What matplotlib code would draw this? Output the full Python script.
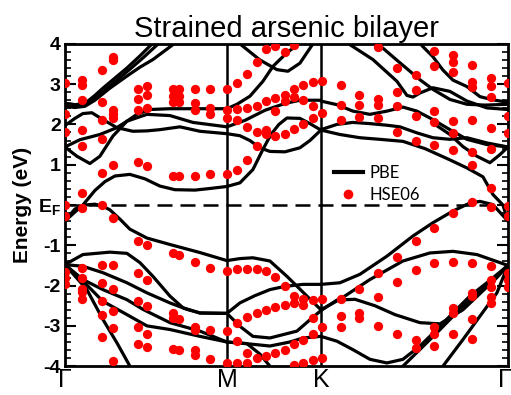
import matplotlib
matplotlib.use("Agg")
import matplotlib.pyplot as plt
import matplotlib.transforms as mtransforms
from matplotlib.ticker import MultipleLocator
from matplotlib.lines import Line2D

plt.rcParams['font.family'] = ['Liberation Sans', 'DejaVu Sans']
plt.rcParams['mathtext.fontset'] = 'custom'
plt.rcParams['mathtext.bf'] = 'Liberation Sans:bold'
plt.rcParams['mathtext.rm'] = 'Liberation Sans:bold'

# high-symmetry points along the path
kpath_pos = [0.0, 1.62, 2.56, 4.43]
kpath_lab = ['Γ', 'M', 'K', 'Γ']

# ---------------- PBE bands (k, E) ----------------
# Gamma - M
gm_c5a_k = [0, .1, .2, .3, .38, .5, .62, .75, .88, .95]
gm_c5a_e = [2.52, 2.49, 2.52, 2.72, 2.9, 3.15, 3.4, 3.7, 4.02, 4.15]
gm_c5b_k = [0, .1, .2, .3, .4, .52, .65, .78, .92, 1.0]
gm_c5b_e = [2.52, 2.49, 2.5, 2.65, 2.85, 3.1, 3.37, 3.65, 3.97, 4.15]
gm_c5c_k = [0, .1, .2, .3, .45, .62, .75, .88, 1.08, 1.15]
gm_c5c_e = [2.45, 2.42, 2.45, 2.6, 2.9, 3.2, 3.42, 3.61, 3.98, 4.1]
gm_b3_k = [0, .1, .18, .27, .38, .52, .68, .82, .95, 1.15, 1.35, 1.62]
gm_b3_e = [1.97, 2.15, 2.27, 2.29, 2.12, 1.92, 1.83, 1.84, 1.87, 1.94, 1.83, 1.77]
gm_b1_k = [0, .15, .35, .52, .62, .72, .85, 1.05, 1.3, 1.62]
gm_b1_e = [1.44, 1.62, 1.75, 1.92, 2.08, 2.25, 2.37, 2.39, 2.39, 2.39]
gm_b2_k = [0, .12, .25, .35, .48, .62, .82, 1.05, 1.28, 1.62]
gm_b2_e = [1.44, 1.21, 1.03, 1.21, 1.71, 2.08, 2.25, 2.22, 2.05, 1.94]
gm_c1_k = [0, .08, .18, .3, .4, .5, .65, .8, .95, 1.1, 1.3, 1.45, 1.62]
gm_c1_e = [-0.4, -0.22, 0.0, 0.36, 0.58, 0.72, 0.76, 0.65, 0.47, 0.38, 0.37, 0.41, 0.46]
gm_v1_k = [0, .1, .2, .3, .38, .45, .55, .65, .82, 1.05, 1.35, 1.62]
gm_v1_e = [-0.4, -0.1, 0.0, 0.02, -0.03, -0.12, -0.35, -0.6, -0.82, -0.98, -1.18, -1.38]
gm_v2_k = [0, .18, .45, .62, .75, .88, 1.05, 1.18, 1.35, 1.62]
gm_v2_e = [-1.48, -1.23, -1.17, -1.20, -1.43, -1.77, -2.26, -2.55, -2.68, -2.69]
gm_v3_k = [0, .18, .38, .62, .82, 1.05, 1.22, 1.35, 1.62]
gm_v3_e = [-1.48, -1.52, -1.68, -1.93, -2.18, -2.43, -2.59, -2.68, -2.69]
gm_v4_k = [0, .18, .38, .62, .78, 1.05, 1.35, 1.62]
gm_v4_e = [-1.48, -1.85, -2.1, -2.35, -2.59, -2.92, -3.13, -3.4]
gm_v5_k = [0, .15, .38, .62, .82, 1.05, 1.35, 1.62]
gm_v5_e = [-1.48, -1.81, -2.39, -2.72, -3.0, -3.09, -3.26, -3.4]
gm_v6_k = [0, .22, .38, .52, .65, .75]
gm_v6_e = [-1.48, -2.1, -2.84, -3.42, -4.0, -4.4]

# M - K
mk_c1_k = [1.62, 1.75, 1.88, 1.98, 2.06, 2.14, 2.22, 2.35, 2.45, 2.56]
mk_c1_e = [0.46, 0.55, 0.88, 1.38, 1.75, 2.0, 2.16, 2.15, 2.02, 1.86]
mk_up_k = [1.62, 1.72, 1.85, 1.98, 2.08, 2.22, 2.35, 2.4]
mk_up_e = [2.39, 2.5, 2.70, 3.07, 3.44, 3.78, 4.02, 4.15]
mk_u_k = [1.7, 1.75, 1.95, 2.12, 2.23, 2.35, 2.48, 2.52]
mk_u_e = [4.15, 4.0, 3.6, 3.36, 3.32, 3.52, 4.0, 4.15]
mk_flat_k = [1.62, 1.8, 2.0, 2.2, 2.35, 2.56]
mk_flat_e = [1.94, 2.1, 2.35, 2.52, 2.6, 2.6]
mk_dip_k = [1.62, 1.75, 1.85, 1.95, 2.05, 2.2, 2.35, 2.45, 2.56]
mk_dip_e = [1.77, 1.72, 1.6, 1.42, 1.33, 1.32, 1.42, 1.6, 1.86]
mk_v1_k = [1.62, 1.75, 1.88, 2.05, 2.22, 2.42, 2.56]
mk_v1_e = [-1.38, -1.33, -1.31, -1.39, -1.77, -2.26, -2.6]
mk_rise_k = [1.62, 1.75, 1.9, 2.05, 2.2, 2.38, 2.56]
mk_rise_e = [-2.69, -2.43, -2.25, -2.1, -2.02, -1.97, -1.97]
mk_dip2_k = [1.62, 1.75, 1.88, 2.05, 2.32, 2.45, 2.56]
mk_dip2_e = [-2.69, -3.01, -3.26, -3.3, -3.13, -2.85, -2.62]
mk_u2_k = [1.62, 1.85, 2.05, 2.25, 2.38, 2.56]
mk_u2_e = [-3.4, -3.45, -3.5, -3.4, -3.3, -3.26]
mk_st_k = [1.62, 1.82, 1.95, 2.05, 2.12]
mk_st_e = [-3.4, -3.44, -3.7, -4.0, -4.25]

# K - Gamma
kg_l1_k = [2.56, 2.75, 2.95, 3.22, 3.48, 3.68, 3.88, 4.05, 4.15, 4.28, 4.43]
kg_l1_e = [-1.97, -1.93, -1.72, -1.27, -0.77, -0.44, -0.15, 0.05, 0.09, 0.01, -0.4]
kg_c1_k = [2.56, 2.75, 2.95, 3.15, 3.38, 3.6, 3.85, 4.02, 4.18, 4.28, 4.38, 4.43]
kg_c1_e = [1.86, 1.75, 1.67, 1.63, 1.58, 1.4, 1.12, 0.92, 0.7, 0.26, 0.0, -0.4]
kg_hump_k = [2.56, 2.75, 3.05, 3.38, 3.65, 3.88, 4.12, 4.35, 4.43]
kg_hump_e = [-2.6, -2.34, -1.85, -1.39, -1.19, -1.15, -1.23, -1.43, -1.5]
kg_v_k = [2.56, 2.72, 2.9, 3.1, 3.3, 3.55, 3.75, 3.98, 4.15, 4.32, 4.43]
kg_v_e = [-2.62, -2.36, -2.34, -2.5, -2.72, -2.92, -2.95, -2.6, -2.2, -1.8, -1.5]
kg_u_k = [2.56, 2.72, 2.88, 3.05, 3.22, 3.38, 3.55, 3.72, 3.88, 4.05, 4.22, 4.43]
kg_u_e = [-3.26, -3.38, -3.59, -3.83, -3.92, -3.83, -3.5, -3.09, -2.68, -2.26, -1.93, -1.5]
kg_s1_k = [3.28, 3.38, 3.72, 3.98, 4.22, 4.43]
kg_s1_e = [-4.3, -4.0, -3.17, -2.51, -2.01, -1.5]
kg_s2_k = [3.7, 3.78, 3.98, 4.15, 4.32, 4.43]
kg_s2_e = [-4.3, -4.0, -3.34, -2.76, -2.18, -1.5]
kg_c3_k = [2.56, 2.72, 2.88, 3.05, 3.22, 3.38, 3.52, 3.68, 3.85, 4.02, 4.22, 4.43]
kg_c3_e = [2.58, 2.49, 2.33, 2.25, 2.33, 2.43, 2.33, 2.12, 1.87, 1.63, 1.5, 1.44]
kg_c2_k = [2.56, 2.72, 2.88, 3.05, 3.22, 3.35, 3.52, 3.68, 3.85, 4.02, 4.22, 4.43]
kg_c2_e = [1.87, 2.0, 2.05, 2.02, 1.98, 1.94, 1.79, 1.67, 1.63, 1.67, 1.54, 1.44]
kg_f_k = [3.7, 3.85, 3.98, 4.12, 4.25, 4.35, 4.43]
kg_f_e = [2.0, 1.75, 1.45, 1.21, 1.05, 1.25, 1.44]
kg_a_k = [3.52, 3.58, 3.68, 3.78, 3.88, 4.02, 4.15, 4.28, 4.43]
kg_a_e = [4.1, 3.93, 3.68, 3.35, 3.10, 2.94, 2.69, 2.61, 2.55]
kg_b_k = [2.8, 2.85, 3.08, 3.32, 3.42, 3.48, 3.55, 3.68, 3.85, 4.02, 4.22, 4.43]
kg_b_e = [4.1, 3.98, 3.61, 3.07, 2.72, 2.68, 2.78, 2.91, 2.82, 2.58, 2.41, 2.37]
kg_c_k = [3.08, 3.12, 3.35, 3.55, 3.68, 3.85, 4.02, 4.2, 4.43]
kg_c_e = [4.1, 4.02, 3.53, 3.11, 2.87, 2.62, 2.5, 2.48, 2.5]

pbe_bands = [
    (gm_c5a_k, gm_c5a_e), (gm_c5b_k, gm_c5b_e), (gm_c5c_k, gm_c5c_e),
    (gm_b3_k, gm_b3_e), (gm_b1_k, gm_b1_e), (gm_b2_k, gm_b2_e),
    (gm_c1_k, gm_c1_e), (gm_v1_k, gm_v1_e), (gm_v2_k, gm_v2_e),
    (gm_v3_k, gm_v3_e), (gm_v4_k, gm_v4_e), (gm_v5_k, gm_v5_e),
    (gm_v6_k, gm_v6_e),
    (mk_c1_k, mk_c1_e), (mk_up_k, mk_up_e), (mk_u_k, mk_u_e),
    (mk_flat_k, mk_flat_e), (mk_dip_k, mk_dip_e), (mk_v1_k, mk_v1_e),
    (mk_rise_k, mk_rise_e), (mk_dip2_k, mk_dip2_e), (mk_u2_k, mk_u2_e),
    (mk_st_k, mk_st_e),
    (kg_l1_k, kg_l1_e), (kg_c1_k, kg_c1_e), (kg_hump_k, kg_hump_e),
    (kg_v_k, kg_v_e), (kg_u_k, kg_u_e), (kg_s1_k, kg_s1_e),
    (kg_s2_k, kg_s2_e), (kg_c3_k, kg_c3_e), (kg_c2_k, kg_c2_e),
    (kg_f_k, kg_f_e), (kg_a_k, kg_a_e), (kg_b_k, kg_b_e), (kg_c_k, kg_c_e),
]

# ---------------- HSE06 points, grouped by k column ----------------
hse_k = [0.0, 0.17, 0.37, 0.48, 0.73, 0.82, 1.08, 1.14, 1.30, 1.45, 1.62,
         1.72, 1.82, 1.92, 2.01, 2.10, 2.20, 2.29, 2.38, 2.48, 2.57,
         2.76, 2.94, 3.13, 3.32, 3.51, 3.69, 3.88, 4.07, 4.26, 4.43]
hse_e = [
    [3.03, 2.25, 1.81, 0.0, -0.28, -1.67, -1.81, -1.97],
    [3.10, 2.97, 2.60, 1.87, 1.46, 0.30, -0.07, -1.56, -1.81, -2.08, -2.16, -2.34],
    [3.34, 2.55, 2.12, 1.64, 0.80, 0.01, -1.48, -1.93, -2.39, -2.72, -3.28],
    [3.68, 3.59, 2.37, 2.25, 2.16, 1.00, -0.32, -1.48, -2.08, -2.62, -3.05, -3.88],
    [2.87, 2.64, 2.35, 1.06, -0.90, -1.68, -2.39, -3.03, -3.44],
    [2.95, 2.74, 2.41, 0.96, -1.00, -1.87, -2.51, -3.19, -3.52],
    [2.87, 2.70, 2.55, 0.73, -1.19, -2.67, -2.80, -3.57],
    [2.87, 2.70, 2.55, 0.71, -1.25, -2.84, -3.59],
    [2.87, 2.54, 2.37, 0.71, -1.42, -3.03, -3.11, -3.60, -3.73],
    [2.87, 2.41, 2.25, 0.76, -1.56, -3.09, -3.82],
    [2.87, 2.37, 2.16, 0.76, -1.63, -3.13, -3.92],
    [3.03, 2.39, 2.12, 0.88, -1.60, -2.92, -3.38, -3.92],
    [3.24, 2.41, 1.94, 1.11, -1.58, -2.77, -3.67, -3.93],
    [3.54, 2.45, 1.81, 1.46, -1.58, -2.69, -3.79],
    [3.88, 2.58, 1.86, 1.75, -1.64, -2.61, -3.75],
    [3.94, 2.66, 2.33, 1.72, -1.78, -2.53, -3.67],
    [3.79, 2.74, 2.58, 1.75, -2.00, -2.47, -3.59],
    [3.96, 2.88, 2.68, 1.89, -2.25, -2.43, -3.46, -3.98],
    [2.99, 2.60, 2.00, -2.34, -2.47, -3.34, -3.92],
    [3.05, 2.45, 2.15, -2.36, -2.80, -3.19, -3.85],
    [3.07, 2.29, -2.34, -3.02, -3.79],
    [2.97, 2.49, 2.12, -2.33, -2.76, -3.02],
    [2.73, 2.49, 2.19, -2.08, -2.68, -2.80],
    [3.92, 2.63, 2.49, 2.15, -1.70, -2.28, -3.00],
    [3.39, 2.80, 2.45, 1.81, -1.28, -1.92, -3.21],
    [3.22, 2.85, 2.22, 1.60, -0.90, -1.62, -3.34, -3.54],
    [3.82, 3.46, 2.33, 2.05, 1.50, -0.57, -1.45, -3.02, -3.21, -3.50],
    [3.73, 3.54, 3.31, 2.08, 1.79, 1.36, -0.21, -1.42, -2.55, -2.68, -3.21],
    [3.48, 3.05, 2.93, 2.12, 1.32, 1.00, 0.07, -1.45, -2.18, -2.26, -2.82, -3.32],
    [3.16, 2.95, 2.69, 1.91, 1.40, 0.41, -0.05, -1.51, -1.85, -2.03, -2.28, -2.44],
    [3.03, 2.22, 1.79, -0.03, -0.28, -1.70, -1.85, -2.03],
]

fig = plt.figure(figsize=(5.11, 3.95), dpi=100)
ax = fig.add_axes([0.127, 0.073, 0.867, 0.816])

for k, e in pbe_bands:
    ax.plot(k, e, color='black', lw=2.3, solid_capstyle='round', zorder=2)

for k, col in zip(hse_k, hse_e):
    ax.plot([k] * len(col), col, 'o', color='#ff0000', ms=6.7, mec='none', zorder=4)

for kp in kpath_pos[1:-1]:
    ax.axvline(kp, color='black', lw=1.8, zorder=3)
ax.axhline(0, color='black', lw=1.8, dashes=(6, 3.2), zorder=3)

ax.set_xlim(kpath_pos[0], kpath_pos[-1])
ax.set_ylim(-4, 4)
ax.set_xticks(kpath_pos)
ax.set_xticklabels(kpath_lab, fontsize=18)
ax.tick_params(axis='x', length=0, pad=1)
last = ax.get_xticklabels()[-1]
last.set_horizontalalignment('right')
last.set_transform(last.get_transform() +
                   mtransforms.ScaledTranslation(4 / 100, 0, fig.dpi_scale_trans))

ax.yaxis.set_major_locator(MultipleLocator(1))
ax.yaxis.set_minor_locator(MultipleLocator(0.2))
ax.set_yticks(range(-4, 5))
ax.set_yticklabels(['-4', '-3', '-2', '-1', r'E$_{\mathbf{F}}$', '1', '2', '3', '4'],
                   fontsize=14, fontweight='bold')
ax.tick_params(axis='y', which='major', direction='in', length=8, width=1.5,
               right=True, pad=3)
ax.tick_params(axis='y', which='minor', direction='in', length=4.5, width=1.2,
               right=True)
for sp in ax.spines.values():
    sp.set_linewidth(2)

ax.set_ylabel('Energy (eV)', fontsize=15, fontweight='bold', labelpad=4)
ax.set_title('Strained arsenic bilayer', fontsize=21, pad=5)

handles = [Line2D([], [], color='black', lw=3),
           Line2D([], [], ls='none', marker='o', color='#ff0000', ms=7, mec='none')]
ax.legend(handles, ['PBE', 'HSE06'], loc='upper left', bbox_to_anchor=(0.592, 0.645),
          frameon=False, handlelength=1.75, handletextpad=0.4,
          labelspacing=0.35, borderaxespad=0,
          prop={'family': 'Lato', 'size': 12})

fig.savefig('out.png', dpi=100)
